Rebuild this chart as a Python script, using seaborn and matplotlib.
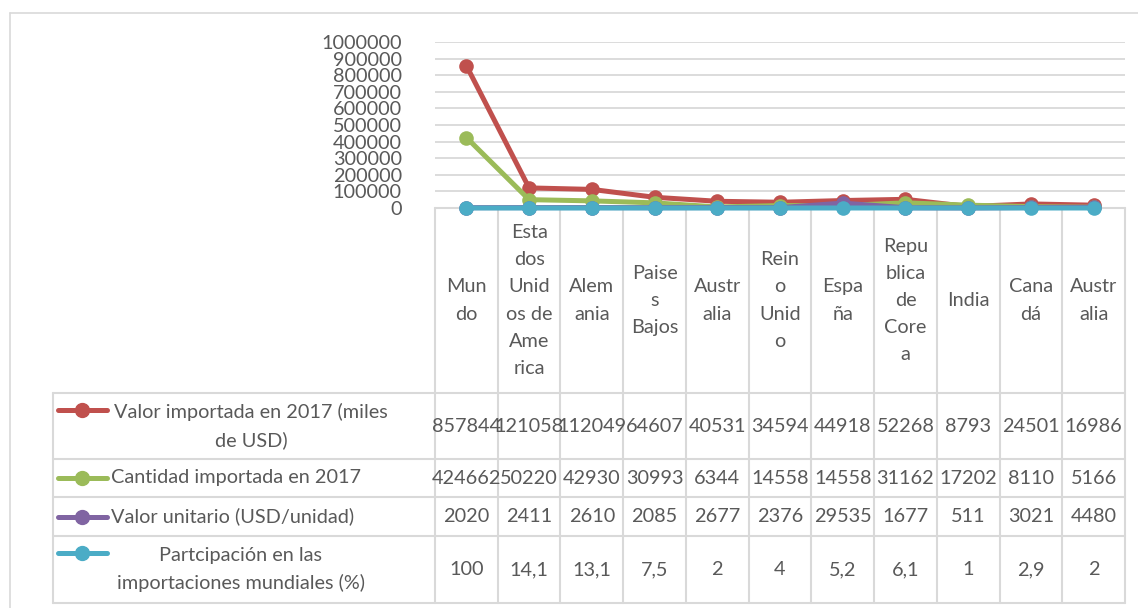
import numpy as np
import pandas as pd
import seaborn as sns
import matplotlib.pyplot as plt

# datos de la tabla del grafico
paises = ["Mundo", "Estados Unidos de America", "Alemania", "Paises Bajos", "Australia",
          "Reino Unido", "España", "Republica de Corea", "India", "Canadá", "Australia"]
etiquetas = ["Mun\ndo", "Esta\ndos\nUnid\nos de\nAme\nrica", "Alem\nania", "Paise\ns\nBajos",
             "Austr\nalia", "Rein\no\nUnid\no", "Espa\nña", "Repu\nblica\nde\nCore\na",
             "India", "Cana\ndá", "Austr\nalia"]

valor_importado = [857844, 121058, 112049, 64607, 40531, 34594, 44918, 52268, 8793, 24501, 16986]
cantidad_importada = [424662, 50220, 42930, 30993, 6344, 14558, 14558, 31162, 17202, 8110, 5166]
valor_unitario = [2020, 2411, 2610, 2085, 2677, 2376, 29535, 1677, 511, 3021, 4480]
participacion = [100, 14.1, 13.1, 7.5, 2, 4, 5.2, 6.1, 1, 2.9, 2]

series = ["Valor importada en 2017 (miles de USD)", "Cantidad importada en 2017",
          "Valor unitario (USD/unidad)", "Partcipación en las importaciones mundiales (%)"]
series_txt = ["Valor importada en 2017 (miles\nde USD)", "Cantidad importada en 2017",
              "Valor unitario (USD/unidad)", "Partcipación en las\nimportaciones mundiales (%)"]
colores = ["#C0504D", "#9BBB59", "#8064A2", "#4BACC6"]
yticks = np.arange(0, 1000001, 100000)

valores = [valor_importado, cantidad_importada, valor_unitario, participacion]

rows = []
for nombre, vals in zip(series, valores):
    for i, v in enumerate(vals):
        rows.append({"pos": i, "serie": nombre, "valor": v})
df = pd.DataFrame(rows)


def fmt(v):
    if float(v).is_integer():
        return str(int(v))
    return str(v).replace(".", ",")


sns.set_theme(style="white")
plt.rcParams["font.family"] = ["Lato", "DejaVu Sans"]
gris_txt = "#595959"
gris_lin = "#D9D9D9"
fs = 14.3

W, H = 1138, 608
x0, x1 = 435, 1125      # area del grafico (px)
ytop, y0 = 42, 208
tabla_izq = 53
filas_y = [393, 459, 497, 536, 603]
n = len(paises)
cw = (x1 - x0) / n

fig = plt.figure(figsize=(W / 100, H / 100), dpi=100)

# capa de fondo para la tabla de datos
ov = fig.add_axes([0, 0, 1, 1], zorder=0)
ov.set_xlim(0, W)
ov.set_ylim(H, 0)
ov.axis("off")

# borde del area del grafico
ov.plot([10, W], [13, 13], color=gris_lin, lw=1.2)
ov.plot([10, 10], [13, H], color=gris_lin, lw=1.2)

# lineas de la tabla
ov.plot([x0, x1], [y0, y0], color=gris_lin, lw=1.5)
for yy in filas_y:
    ov.plot([tabla_izq, x1], [yy, yy], color=gris_lin, lw=1.5)
ov.plot([tabla_izq, tabla_izq], [filas_y[0], filas_y[-1]], color=gris_lin, lw=1.5)
for i in range(n + 1):
    xx = x0 + i * cw
    ov.plot([xx, xx], [y0, filas_y[-1]], color=gris_lin, lw=1.5)

# etiquetas de categorias
for i, et in enumerate(etiquetas):
    ov.text(x0 + (i + 0.5) * cw, (y0 + filas_y[0]) / 2, et, ha="center", va="center",
            fontsize=fs, color=gris_txt, linespacing=1.72, multialignment="center")

# filas con clave de leyenda, nombre y valores
for r, (txt, vals, col) in enumerate(zip(series_txt, valores, colores)):
    ya, yb = filas_y[r], filas_y[r + 1]
    yc = (ya + yb) / 2
    multi = "\n" in txt
    yk = ya + 17 if multi else yc
    ov.plot([58, 107], [yk, yk], color=col, lw=3.6, solid_capstyle="round")
    ov.plot([82], [yk], "o", color=col, ms=10, mec=col)
    if multi:
        xc = 251 if r == 0 else 241
        ov.text(xc, yc, txt, ha="center", va="center", fontsize=fs, color=gris_txt,
                linespacing=1.65, multialignment="center")
    else:
        ov.text(111, yc, txt, ha="left", va="center", fontsize=fs, color=gris_txt)
    for i, v in enumerate(vals):
        ov.text(x0 + (i + 0.5) * cw, yc, fmt(v), ha="center", va="center",
                fontsize=fs, color=gris_txt)

# grafico de lineas
ax = fig.add_axes([x0 / W, 1 - y0 / H, (x1 - x0) / W, (y0 - ytop) / H], zorder=1)
ax.patch.set_alpha(0)
sns.lineplot(data=df, x="pos", y="valor", hue="serie", hue_order=series,
             palette=colores, marker="o", markersize=10.5, markeredgewidth=0,
             linewidth=3.6, sort=False, legend=False, ax=ax, clip_on=False)
for ln in ax.lines:
    ln.set_clip_on(False)
ax.set_xlim(-0.5, n - 0.5)
ax.set_ylim(0, 1000000)
ax.set_yticks(yticks)
ax.set_yticklabels([str(t) for t in yticks])
ax.set_xticks([])
ax.set_xlabel("")
ax.set_ylabel("")
ax.tick_params(axis="y", length=0, pad=24, labelsize=fs, labelcolor=gris_txt)
ax.grid(axis="y", color=gris_lin, lw=1.3)
ax.set_axisbelow(True)
sns.despine(ax=ax, left=True, bottom=True)

fig.savefig("out.png", dpi=100)
